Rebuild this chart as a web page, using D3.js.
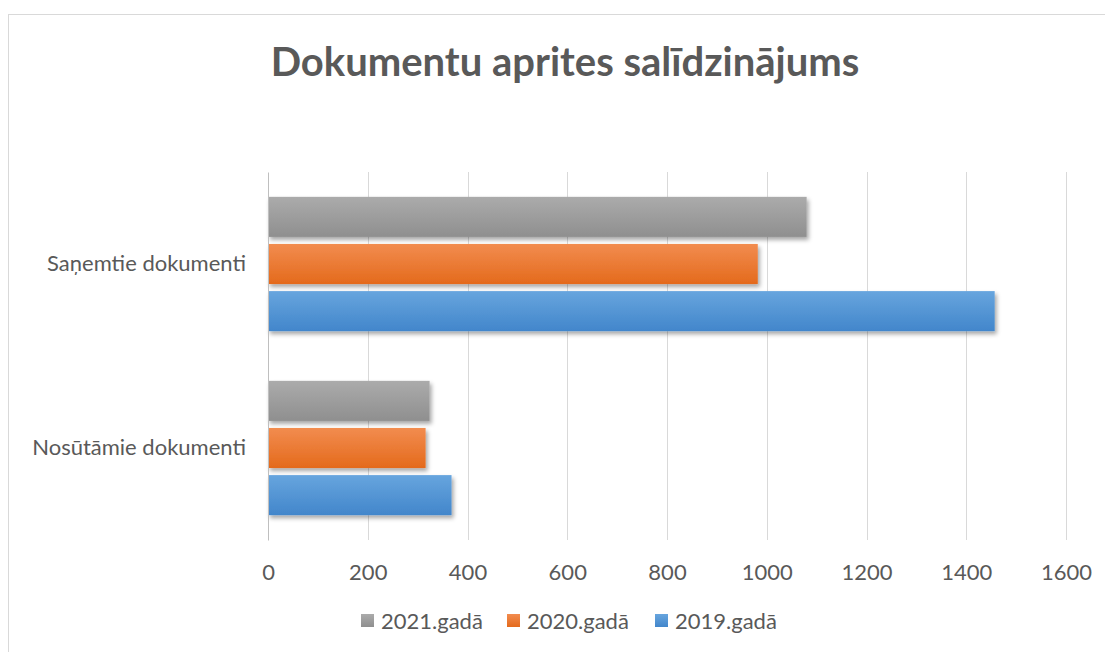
<!DOCTYPE html>
<html>
<head>
<meta charset="utf-8">
<script src="https://cdn.jsdelivr.net/npm/d3@7"></script>
<style>
    body { margin: 0; background: #fff; }
    svg text { font-family: Lato, "Open Sans", sans-serif; fill: #595959; }
</style>
</head>
<body>
<svg id="chart" width="1105" height="652"></svg>
<script>
// categories, bottom to top as in the original chart
var categories = ['Nosūtāmie dokumenti', 'Saņemtie dokumenti'];

// series (legend order)
var seriesNames = ['2021.gadā', '2020.gadā', '2019.gadā'];
var values2021 = [324, 1080];
var values2020 = [316, 982];
var values2019 = [368, 1457];

var xTicks = [0, 200, 400, 600, 800, 1000, 1200, 1400, 1600];

var colors = {
    '2021.gadā': ['#ababab', '#8f8f8f'],
    '2020.gadā': ['#f28c4f', '#e46a1c'],
    '2019.gadā': ['#67a5de', '#4286cb']
};

var seriesValues = {
    '2021.gadā': values2021,
    '2020.gadā': values2020,
    '2019.gadā': values2019
};

var width = 1105,
    height = 652,
    margin = { top: 172, right: 39, bottom: 112, left: 268 };

var svg = d3.select('#chart');

// chart frame
svg.append('rect')
    .attr('x', 8.5)
    .attr('y', 14.5)
    .attr('width', 1110)
    .attr('height', 660)
    .attr('fill', '#fff')
    .attr('stroke', '#d9d9d9');

// gradients and shadow
var defs = svg.append('defs');
seriesNames.forEach(function (s, i) {
    var g = defs.append('linearGradient')
        .attr('id', 'grad' + i)
        .attr('x1', 0).attr('y1', 0).attr('x2', 0).attr('y2', 1);
    g.append('stop').attr('offset', '0%').attr('stop-color', colors[s][0]);
    g.append('stop').attr('offset', '100%').attr('stop-color', colors[s][1]);
});
var f = defs.append('filter')
    .attr('id', 'shadow')
    .attr('x', '-5%').attr('y', '-20%')
    .attr('width', '115%').attr('height', '160%');
f.append('feDropShadow')
    .attr('dx', 2).attr('dy', 3)
    .attr('stdDeviation', 2)
    .attr('flood-color', '#000')
    .attr('flood-opacity', 0.35);

var x = d3.scaleLinear()
    .domain([0, 1600])
    .range([margin.left, width - margin.right]);

var y = d3.scaleBand()
    .domain(categories.slice().reverse())
    .range([margin.top, height - margin.bottom])
    .paddingInner(0.27)
    .paddingOuter(0.135);

var yInner = d3.scaleBand()
    .domain(seriesNames)
    .range([0, y.bandwidth()])
    .paddingInner(0.15);

// title
svg.append('text')
    .attr('x', 565)
    .attr('y', 76)
    .attr('text-anchor', 'middle')
    .style('font-size', '40px')
    .style('font-weight', 'bold')
    .text('Dokumentu aprites salīdzinājums');

// gridlines
svg.append('g')
    .selectAll('line')
    .data(xTicks.slice(1))
    .join('line')
    .attr('x1', function (d) { return Math.round(x(d)) + 0.5; })
    .attr('x2', function (d) { return Math.round(x(d)) + 0.5; })
    .attr('y1', margin.top)
    .attr('y2', height - margin.bottom)
    .attr('stroke', '#d9d9d9');

// x axis labels
var xAxis = d3.axisBottom(x)
    .tickValues(xTicks)
    .tickFormat(d3.format('d'))
    .tickSize(0)
    .tickPadding(24);

svg.append('g')
    .attr('transform', 'translate(0,' + (height - margin.bottom) + ')')
    .call(xAxis)
    .call(function (g) { g.select('.domain').remove(); })
    .selectAll('text')
    .style('font-size', '22px')
    .style('font-family', 'Lato, "Open Sans", sans-serif');

// bars
var groups = svg.append('g')
    .selectAll('g')
    .data(categories)
    .join('g')
    .attr('transform', function (d) { return 'translate(0,' + y(d) + ')'; });

groups.selectAll('rect')
    .data(function (c, ci) {
        return seriesNames.map(function (s) {
            return { series: s, value: seriesValues[s][ci] };
        });
    })
    .join('rect')
    .attr('x', x(0))
    .attr('y', function (d) { return yInner(d.series); })
    .attr('width', function (d) { return x(d.value) - x(0); })
    .attr('height', yInner.bandwidth())
    .attr('fill', function (d) { return 'url(#grad' + seriesNames.indexOf(d.series) + ')'; })
    .attr('filter', 'url(#shadow)');

// category axis
var yAxis = d3.axisLeft(y)
    .tickSize(0)
    .tickPadding(22);

svg.append('g')
    .attr('transform', 'translate(' + margin.left + ',0)')
    .call(yAxis)
    .call(function (g) {
        g.select('.domain').attr('stroke', '#bfbfbf');
    })
    .selectAll('text')
    .style('font-size', '22px')
    .style('font-family', 'Lato, "Open Sans", sans-serif');

// legend
var legendX = [361, 507, 655];
var legend = svg.append('g')
    .selectAll('g')
    .data(seriesNames)
    .join('g')
    .attr('transform', function (d, i) { return 'translate(' + legendX[i] + ',621)'; });

legend.append('rect')
    .attr('x', 0)
    .attr('y', -7)
    .attr('width', 13)
    .attr('height', 13)
    .attr('fill', function (d, i) { return 'url(#grad' + i + ')'; });

legend.append('text')
    .attr('x', 20)
    .attr('dy', '0.35em')
    .style('font-size', '22px')
    .text(function (d) { return d; });
</script>
</body>
</html>
